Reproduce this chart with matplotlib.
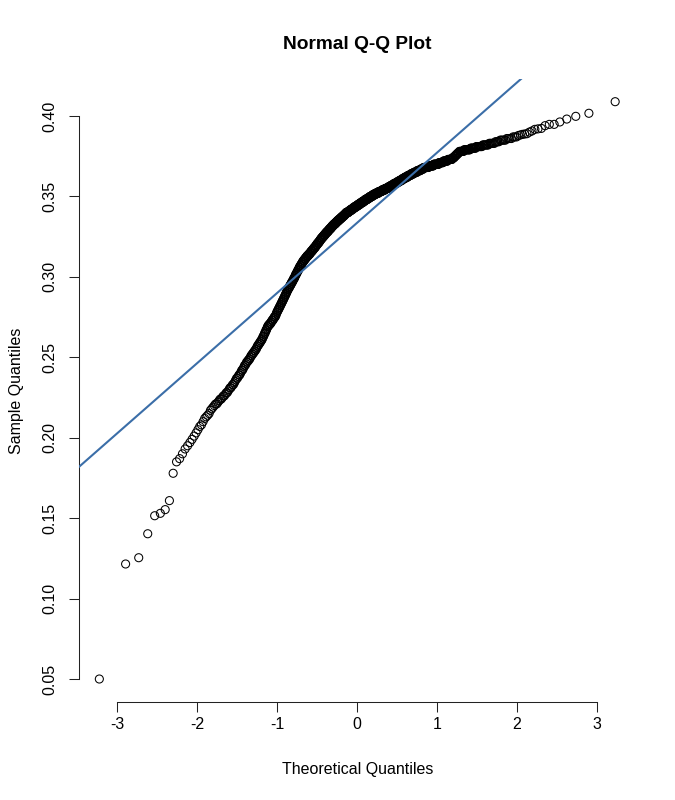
from statistics import NormalDist

import matplotlib
matplotlib.use('Agg')
import matplotlib.pyplot as plt
import numpy as np

plt.rcParams['font.family'] = ['Liberation Sans', 'DejaVu Sans']

# lowest sample values, each one a separate circle
low_tail = [0.0500, 0.1215, 0.1254, 0.1403, 0.1515, 0.1530, 0.1553, 0.1609, 0.1779]

# the dense body: number of sample values on each 0.001 step, starting at 0.185
body_start = 0.185
body_counts = [
    1, 0, 1, 0, 0, 1, 0, 0, 1, 0,   # 0.185 - 0.194
    1, 0, 1, 0, 1, 0, 1, 0, 1, 0,   # 0.195 - 0.204
    1, 0, 1, 1, 0, 1, 0, 1, 1, 1,   # 0.205 - 0.214
    1, 0, 1, 1, 1, 1, 2, 1, 1, 2,   # 0.215 - 0.224
    1, 2, 1, 2, 1, 1, 2, 1, 2, 1,   # 0.225 - 0.234
    1, 1, 2, 1, 2, 1, 1, 2, 1, 1,   # 0.235 - 0.244
    2, 1, 2, 2, 2, 1, 2, 2, 2, 2,   # 0.245 - 0.254
    2, 1, 2, 2, 2, 2, 2, 1, 2, 1,   # 0.255 - 0.264
    2, 1, 2, 1, 2, 3, 3, 2, 3, 2,   # 0.265 - 0.274
    3, 2, 1, 2, 2, 2, 2, 2, 2, 2,   # 0.275 - 0.284
    2, 2, 2, 2, 2, 2, 2, 2, 3, 2,   # 0.285 - 0.294
    3, 2, 3, 2, 3, 2, 2, 3, 2, 3,   # 0.295 - 0.304
    2, 3, 3, 3, 3, 4, 4, 4, 5, 5,   # 0.305 - 0.314
    4, 5, 4, 5, 4, 4, 5, 4, 4, 5,   # 0.315 - 0.324
    5, 5, 5, 6, 5, 6, 5, 6, 7, 6,   # 0.325 - 0.334
    7, 7, 7, 7, 6, 10, 9, 9, 9, 10,  # 0.335 - 0.344
    9, 10, 9, 10, 10, 10, 11, 13, 12, 13,  # 0.345 - 0.354
    12, 10, 10, 10, 10, 9, 9, 10, 9, 10,   # 0.355 - 0.364
    10, 10, 9, 14, 13, 13, 10, 10, 9, 4,   # 0.365 - 0.374
    3, 3, 3, 8, 10, 8, 8, 7, 6, 4,   # 0.375 - 0.384
    5, 4, 3,                         # 0.385 - 0.387
]

# highest sample values
high_tail = [0.3879, 0.3882, 0.3886, 0.3888, 0.3890, 0.3900, 0.3907, 0.3917, 0.3920,
             0.3923, 0.3940, 0.3948, 0.3948, 0.3963, 0.3981, 0.3998, 0.4017, 0.4089]

# reference line over the points
line_intercept = 0.3337
line_slope = 0.0436

x_ticks = [-3, -2, -1, 0, 1, 2, 3]
y_ticks = [0.05, 0.10, 0.15, 0.20, 0.25, 0.30, 0.35, 0.40]

body_values = np.round(body_start + 0.001 * np.arange(len(body_counts)), 3)
sample = np.sort(np.concatenate([low_tail, np.repeat(body_values, body_counts), high_tail]))
n = len(sample)
probs = (np.arange(1, n + 1) - 0.5) / n
theoretical = np.array([NormalDist().inv_cdf(p) for p in probs])

W, H = 675, 800
fig = plt.figure(figsize=(W / 100, H / 100), dpi=100)
ax = fig.add_axes([78.7 / W, 97.9 / H, 557.1 / W, 623.5 / H])

ax.scatter(theoretical, sample, s=5.8 ** 2, facecolors='none', edgecolors='black',
           linewidths=0.75, zorder=2)
ax.margins(0.04)
ax.axline((0, line_intercept), slope=line_slope, color='#3b6ea8', lw=1.5, zorder=3)

for side in ['top', 'right']:
    ax.spines[side].set_visible(False)
for side in ['left', 'bottom']:
    ax.spines[side].set_linewidth(0.75)
    ax.spines[side].set_color('#222222')
ax.spines['bottom'].set_bounds(x_ticks[0], x_ticks[-1])
ax.spines['left'].set_bounds(y_ticks[0], y_ticks[-1])

ax.set_xticks(x_ticks)
ax.set_xticklabels([str(t) for t in x_ticks])
ax.set_yticks(y_ticks)
ax.set_yticklabels(['%.2f' % t for t in y_ticks], rotation=90, va='center', ha='right')
ax.tick_params(length=6.9, width=0.75, color='#222222', labelsize=11.5)
ax.tick_params(axis='x', pad=3.5)
ax.tick_params(axis='y', pad=8.5)

ax.set_title('Normal Q-Q Plot', fontsize=13.8, fontweight='bold', y=1.0475, pad=0)
ax.set_xlabel('Theoretical Quantiles', fontsize=11.5)
ax.set_ylabel('Sample Quantiles', fontsize=11.5)
ax.xaxis.set_label_coords(0.5, -0.0961)
ax.yaxis.set_label_coords(-0.0973, 0.5)

fig.savefig('out.png', dpi=100)
